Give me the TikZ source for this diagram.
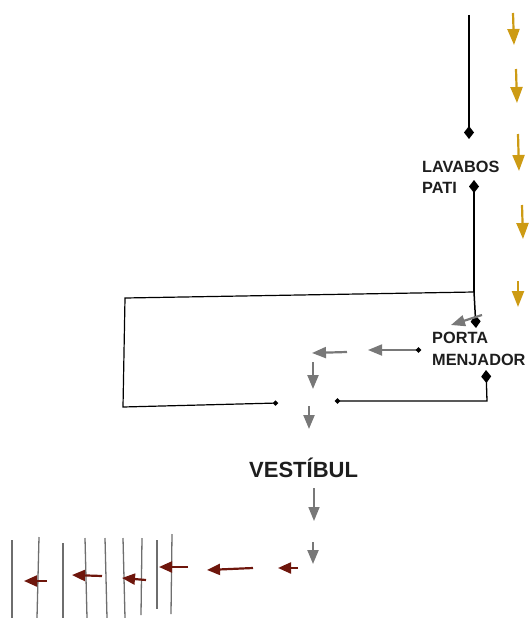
\documentclass[tikz,border=0pt]{standalone}
\usepackage{fontspec}
\setmainfont{Liberation Sans}
\usetikzlibrary{arrows.meta}
\definecolor{gold}{RGB}{205,155,20}
\definecolor{darkred}{RGB}{110,22,12}
\definecolor{arrgrey}{RGB}{120,120,120}
\definecolor{linegrey}{RGB}{110,110,110}
\definecolor{txt}{RGB}{30,30,30}
\tikzset{
  lbl/.style={inner sep=0pt, anchor=base west, text=txt, font=\fontsize{16.3}{19}\selectfont\bfseries},
  bigl/.style={inner sep=0pt, anchor=base west, text=txt, font=\fontsize{22}{26}\selectfont\bfseries},
  blk/.style={draw=black, line width=1.5pt},
  dia/.style={-{Diamond[length=13pt,width=10pt]}},
  dot/.style={-{Circle[length=5pt]}},
  goldarr/.style={draw=gold, line width=2.2pt, -{Triangle[length=16pt,width=12pt]}},
  greyarr/.style={draw=arrgrey, line width=2.2pt, -{Triangle[length=14pt,width=11pt]}},
  redarr/.style={draw=darkred, line width=2.2pt, -{Triangle[length=13pt,width=11pt]}},
  vline/.style={draw=linegrey, line width=1.3pt},
}
\begin{document}
\begin{tikzpicture}[x=1pt,y=-1pt]
\useasboundingbox (0,0) rectangle (532,618);
% labels
\node[lbl] (lav) at (422,172) {LAVABOS};
\node[lbl] (pati) at (422,193) {PATI};
\node[lbl] (porta) at (432,343) {PORTA};
\node[lbl] (menj) at (432,365) {MENJADOR};
\node[bigl] (vest) at (249,477) {VESTÍBUL};
% coordinates for black connectors
\coordinate (t0) at (469,15);
\coordinate (d1) at (469,139);
\coordinate (d2) at (474,180);
\coordinate (j1) at (474,292);
\coordinate (d3) at (476,328);
\coordinate (c1) at (125,298);
\coordinate (c2) at (123,407);
\coordinate (e1) at (278,403);
\coordinate (d4) at (486,370);
\coordinate (c3) at (487,401);
\coordinate (e2) at (335,401);
\draw[blk,dia] (t0) -- (d1);
\draw[blk,{Diamond[length=13pt,width=10pt]}-] (d2) -- (j1);
\draw[blk,dia] (j1) -- (d3);
\draw[blk,dot,line width=1.2pt] (j1) -- (c1) -- (c2) -- (e1);
\draw[blk,{Diamond[length=13pt,width=10pt]}-{Circle[length=5pt]},line width=1.3pt] (d4) -- (c3) -- (e2);
% grey arrows
\coordinate (ga1) at (482,315); \coordinate (gb1) at (451,325);
\coordinate (ga2) at (421,350); \coordinate (gb2) at (368,350);
\coordinate (ga3) at (347,352); \coordinate (gb3) at (312,353);
\coordinate (ga4) at (313,362); \coordinate (gb4) at (313,389);
\coordinate (ga5) at (309,406); \coordinate (gb5) at (309,429);
\coordinate (ga6) at (314,488); \coordinate (gb6) at (314,521);
\coordinate (ga7) at (313,542); \coordinate (gb7) at (313,564);
\draw[greyarr] (ga1) -- (gb1);
\draw[greyarr,line width=1.8pt,{Circle[length=5pt,black]}-{Triangle[length=14pt,width=11pt]}] (ga2) -- (gb2);
\draw[greyarr] (ga3) -- (gb3);
\draw[greyarr] (ga4) -- (gb4);
\draw[greyarr] (ga5) -- (gb5);
\draw[greyarr,line width=1.6pt] (ga6) -- (gb6);
\draw[greyarr] (ga7) -- (gb7);
% gold arrows
\coordinate (ya1) at (513,13); \coordinate (yb1) at (514,45);
\coordinate (ya2) at (516,69); \coordinate (yb2) at (517,103);
\coordinate (ya3) at (518,134); \coordinate (yb3) at (519,171);
\coordinate (ya4) at (522,205); \coordinate (yb4) at (523,239);
\coordinate (ya5) at (518,281); \coordinate (yb5) at (518,307);
\foreach \i in {1,...,5} \draw[goldarr] (ya\i) -- (yb\i);
% vertical grey lines
\coordinate (v1a) at (12,540);  \coordinate (v1b) at (12,618);
\coordinate (v2a) at (39,537);  \coordinate (v2b) at (37,618);
\coordinate (v3a) at (63,543);  \coordinate (v3b) at (63,618);
\coordinate (v4a) at (85,538);  \coordinate (v4b) at (87,618);
\coordinate (v5a) at (105,538); \coordinate (v5b) at (107,618);
\coordinate (v6a) at (123,538); \coordinate (v6b) at (125,618);
\coordinate (v7a) at (142,538); \coordinate (v7b) at (141,615);
\coordinate (v8a) at (157,540); \coordinate (v8b) at (157,609);
\coordinate (v9a) at (172,534); \coordinate (v9b) at (171,614);
\foreach \i in {1,...,9} \draw[vline] (v\i a) -- (v\i b);
% dark red arrows
\coordinate (ra1) at (298,568); \coordinate (rb1) at (278,568);
\coordinate (ra2) at (253,568); \coordinate (rb2) at (207,570);
\coordinate (ra3) at (188,567); \coordinate (rb3) at (159,567);
\coordinate (ra4) at (146,580); \coordinate (rb4) at (122,578);
\coordinate (ra5) at (102,576); \coordinate (rb5) at (72,575);
\coordinate (ra6) at (47,581);  \coordinate (rb6) at (24,581);
\foreach \i in {1,...,6} \draw[redarr] (ra\i) -- (rb\i);
\end{tikzpicture}
\end{document}
